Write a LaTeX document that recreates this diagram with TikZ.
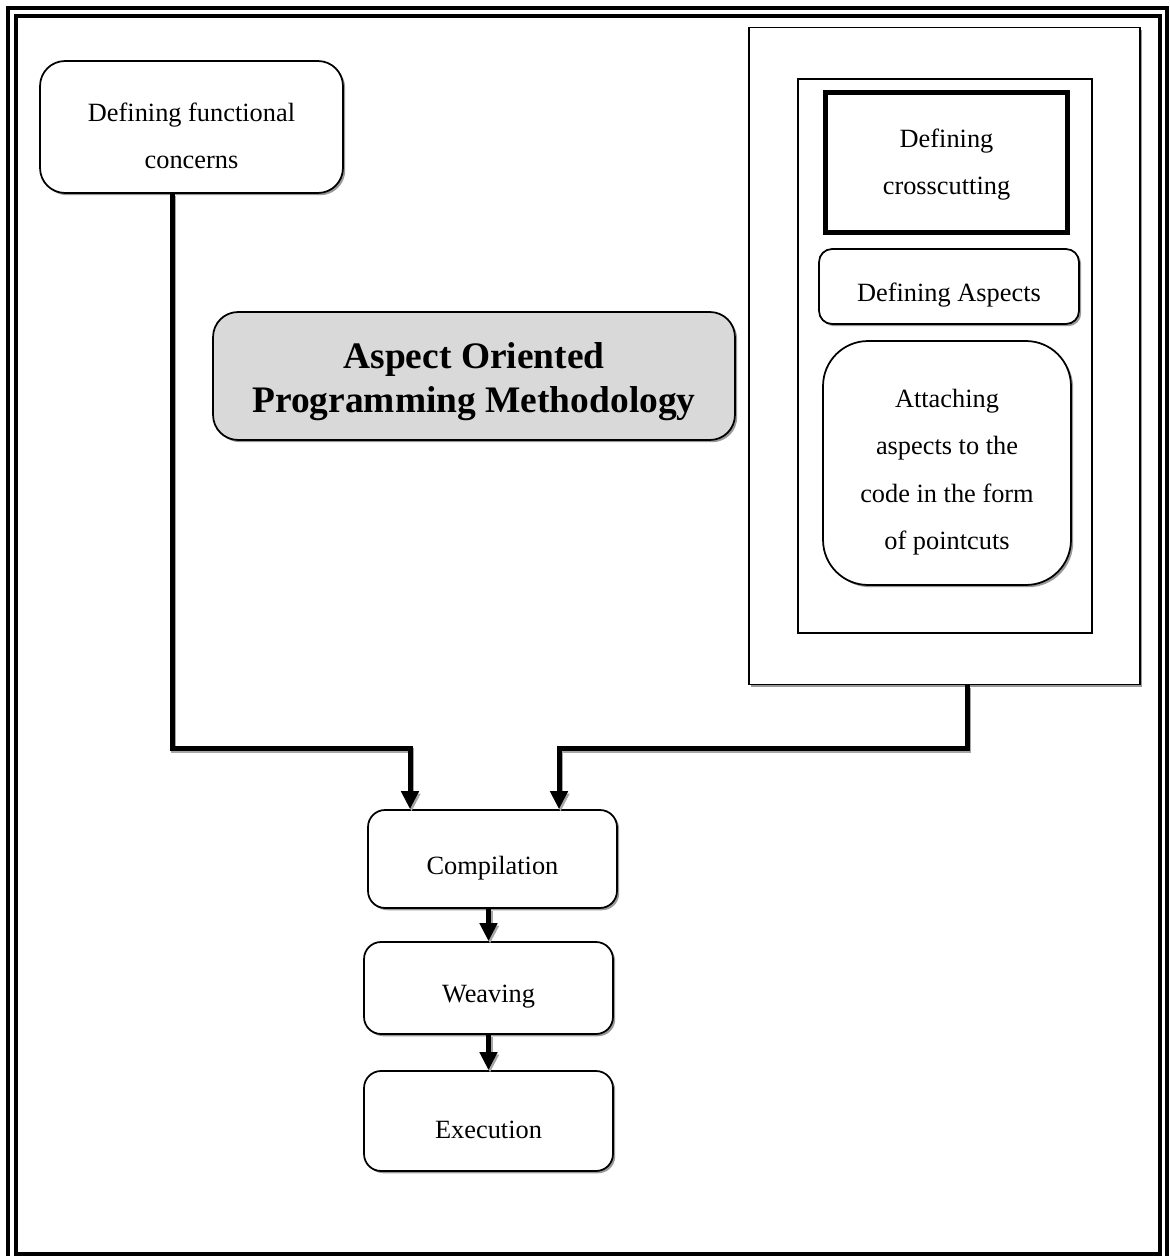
\documentclass[tikz,border=0pt]{standalone}
\usepackage{fontspec}
\setmainfont{Liberation Serif}
\usetikzlibrary{arrows.meta,shadows,calc}

\tikzset{
  body/.style={font=\fontsize{15}{27}\selectfont, align=center},
  card/.style={draw, line width=0.035cm, fill=white, inner sep=0pt,
    drop shadow={shadow xshift=0.045cm, shadow yshift=-0.045cm,
                 fill=black, opacity=0.4}},
  plainbox/.style={draw, line width=0.035cm, fill=white, inner sep=0pt},
  txt/.style={label={[body, yshift=-0.18cm]center:#1}},
  headtxt/.style={label={[font=\bfseries\fontsize{21.3}{25}\selectfont,
                          align=center, yshift=-0.11cm]center:#1}},
  conn/.style={line width=0.1cm,
    -{Triangle[length=0.36cm,width=0.34cm]},
    preaction={draw=black!35, line width=0.1cm,
      transform canvas={xshift=0.03cm, yshift=-0.05cm}}},
}

\begin{document}
\begin{tikzpicture}[x=0.02cm, y=-0.02cm]
  \useasboundingbox (0,0) rectangle (1169,1256);
  \clip (0,0) rectangle (1169,1256);

  % page frame (double rule)
  \draw[line width=0.085cm] (8,8) rectangle (1167,1263);
  \draw[line width=0.085cm] (16,16) rectangle (1160,1254.5);

  % functional concerns
  \node[card, rounded corners=0.5cm, minimum width=6.06cm, minimum height=2.64cm,
        txt={Defining functional\\concerns}] (fc) at (191.5,127) {};

  % aspect side: outer and inner frames
  \node[card, minimum width=7.82cm, minimum height=13.14cm] (rb) at (944.5,356) {};
  \node[plainbox, minimum width=5.88cm, minimum height=11.08cm] (ib) at (945,356) {};

  \node[draw, line width=0.1cm, fill=white, inner sep=0pt,
        minimum width=4.84cm, minimum height=2.8cm,
        label={[body, yshift=-0.04cm]center:Defining\\crosscutting}] (cc) at (946.5,162.5) {};
  \node[card, rounded corners=0.26cm, minimum width=5.2cm, minimum height=1.5cm,
        txt={Defining Aspects}] (as) at (949,286.5) {};
  \node[card, rounded corners=0.9cm, minimum width=4.96cm, minimum height=4.88cm,
        txt={Attaching\\aspects to the\\code in the form\\of pointcuts}] (at) at (947,463) {};

  % title
  \node[card, fill=black!15, rounded corners=0.5cm, minimum width=10.44cm,
        minimum height=2.56cm,
        headtxt={Aspect Oriented\\Programming Methodology}] (title) at (474,376) {};

  % process chain
  \node[card, rounded corners=0.34cm, minimum width=4.98cm, minimum height=1.96cm,
        txt={Compilation}] (cm) at (492.5,859) {};
  \node[card, rounded corners=0.34cm, minimum width=4.98cm, minimum height=1.84cm,
        txt={Weaving}] (wv) at (488.5,988) {};
  \node[card, rounded corners=0.34cm, minimum width=4.98cm, minimum height=2.0cm,
        txt={Execution}] (ex) at (488.5,1121) {};

  % connectors
  \coordinate (lx) at (172,0);
  \coordinate (rx) at (967,0);
  \coordinate (j1) at (410,748);
  \coordinate (j2) at (559,748);
  \coordinate (dx) at (488.5,0);

  \draw[conn] (lx |- fc.south) |- (j1) -- (j1 |- cm.north);
  \draw[conn] (rx |- rb.south) |- (j2) -- (j2 |- cm.north);
  \draw[conn] (dx |- cm.south) -- (dx |- wv.north);
  \draw[conn] (dx |- wv.south) -- (dx |- ex.north);
\end{tikzpicture}
\end{document}
